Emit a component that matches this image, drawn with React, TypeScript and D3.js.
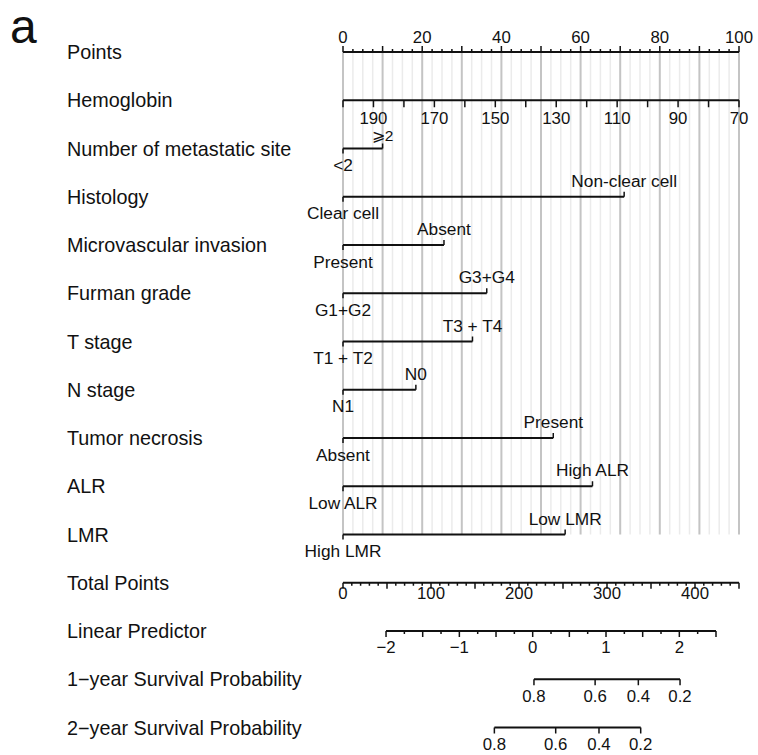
import React from "react";
import * as d3 from "d3";

const rowLabels = [
  "Points",
  "Hemoglobin",
  "Number of metastatic site",
  "Histology",
  "Microvascular invasion",
  "Furman grade",
  "T stage",
  "N stage",
  "Tumor necrosis",
  "ALR",
  "LMR",
  "Total Points",
  "Linear Predictor",
  "1\u2212year Survival Probability",
  "2\u2212year Survival Probability",
];

// Points axis
const pointsTicks = d3.range(0, 100.001, 2.5);
const pointsLabels = [0, 20, 40, 60, 80, 100];

// Hemoglobin (200 -> 0 points, 70 -> 100 points)
const hbTicks = [200, 190, 180, 170, 160, 150, 140, 130, 120, 110, 100, 90, 80, 70];
const hbLabels = [190, 170, 150, 130, 110, 90, 70];
const hbRange = [200, 70];

// Categorical variables (rows 2..10)
const catLowLabels = ["<2", "Clear cell", "Present", "G1+G2", "T1 + T2", "N1", "Absent", "Low ALR", "High LMR"];
const catHighLabels = ["\u2A7E2", "Non-clear cell", "Absent", "G3+G4", "T3 + T4", "N0", "Present", "High ALR", "Low LMR"];
const catHighPoints = [10, 71, 25.5, 36.3, 32.7, 18.4, 53.1, 63, 56.1];

// Total points
const totalTicks = d3.range(0, 450.001, 10);
const totalLabels = [0, 100, 200, 300, 400];
const totalMax = 450;

// Linear predictor (value -> total points)
const lpTicks = d3.range(-2, 2.5001, 0.25);
const lpLabels = [-2, -1, 0, 1, 2];
const lpAnchor = [-2, 2];
const lpAnchorTotal = [48.9, 382.2];

// Survival probabilities (value -> total points)
const survProbs = [0.8, 0.6, 0.4, 0.2];
const surv1Total = [217, 286.5, 335.6, 383];
const surv2Total = [172, 241.7, 290.9, 338.3];

const FONT = "'Liberation Sans', Arial, Helvetica, sans-serif";

export default function App() {
  const W = 758;
  const H = 755;
  const x0 = 343;
  const x1 = 739;
  const rowY = (i: number) => 52 + i * 48.25;

  const px = d3.scaleLinear().domain([0, 100]).range([x0, x1]);
  const hb = d3.scaleLinear().domain(hbRange).range([x0, x1]);
  const tp = d3.scaleLinear().domain([0, totalMax]).range([x0, x1]);
  const lp = d3.scaleLinear().domain(lpAnchor).range(lpAnchorTotal.map((v) => tp(v)));

  const gridTop = rowY(0);
  const gridBottom = rowY(10);
  const fmt = d3.format("");

  const isMult = (v: number, m: number) => Math.abs(v / m - Math.round(v / m)) < 1e-6;

  const TICK_FS = 16.8;
  const CAT_FS = 17.3;
  const ROW_FS = 19.8;

  const elements: React.ReactNode[] = [];

  // gridlines
  pointsTicks.forEach((t, i) => {
    if (isMult(t, 10)) return;
    elements.push(
      <line key={"gm" + i} x1={px(t)} x2={px(t)} y1={gridTop} y2={gridBottom} stroke="#ebebeb" strokeWidth={1.5} />
    );
  });
  pointsTicks.forEach((t, i) => {
    if (!isMult(t, 10)) return;
    elements.push(
      <line key={"gM" + i} x1={px(t)} x2={px(t)} y1={gridTop} y2={gridBottom} stroke="#c4c4c4" strokeWidth={2} />
    );
  });

  // row labels
  rowLabels.forEach((l, i) => {
    elements.push(
      <text key={"rl" + i} x={67} y={rowY(i) + 7} fontSize={ROW_FS} fontFamily={FONT} fill="#111">
        {l}
      </text>
    );
  });

  const stroke = "#111";
  const sw = 2;

  // Points axis
  {
    const y = rowY(0);
    elements.push(<line key="pa" x1={px(0)} x2={px(100)} y1={y} y2={y} stroke={stroke} strokeWidth={sw} />);
    pointsTicks.forEach((t, i) => {
      const len = isMult(t, 10) ? 6 : 3;
      elements.push(<line key={"pt" + i} x1={px(t)} x2={px(t)} y1={y} y2={y - len} stroke={stroke} strokeWidth={1.5} />);
    });
    pointsLabels.forEach((t, i) => {
      elements.push(
        <text key={"pl" + i} x={px(t)} y={y - 9.5} textAnchor="middle" fontSize={TICK_FS} fontFamily={FONT} fill="#111">
          {fmt(t)}
        </text>
      );
    });
  }

  // Hemoglobin
  {
    const y = rowY(1);
    elements.push(<line key="ha" x1={hb(hbRange[0])} x2={hb(hbRange[1])} y1={y} y2={y} stroke={stroke} strokeWidth={sw} />);
    hbTicks.forEach((t, i) => {
      elements.push(<line key={"ht" + i} x1={hb(t)} x2={hb(t)} y1={y} y2={y + 7} stroke={stroke} strokeWidth={1.5} />);
    });
    hbLabels.forEach((t, i) => {
      elements.push(
        <text key={"hl" + i} x={hb(t)} y={y + 24} textAnchor="middle" fontSize={TICK_FS} fontFamily={FONT} fill="#111">
          {fmt(t)}
        </text>
      );
    });
  }

  // categorical
  catHighPoints.forEach((p, i) => {
    const y = rowY(i + 2);
    const xa = px(0);
    const xb = px(p);
    elements.push(<line key={"ca" + i} x1={xa} x2={xb} y1={y} y2={y} stroke={stroke} strokeWidth={sw} />);
    elements.push(<line key={"cl" + i} x1={xa} x2={xa} y1={y} y2={y + 5} stroke={stroke} strokeWidth={1.5} />);
    elements.push(<line key={"ch" + i} x1={xb} x2={xb} y1={y} y2={y - 5} stroke={stroke} strokeWidth={1.5} />);
    elements.push(
      <text key={"clt" + i} x={xa} y={y + 22.5} textAnchor="middle" fontSize={CAT_FS} fontFamily={FONT} fill="#111">
        {catLowLabels[i]}
      </text>
    );
    elements.push(
      <text
        key={"cht" + i}
        x={xb}
        y={y - (i === 0 ? 7.5 : 10)}
        textAnchor="middle"
        fontSize={i === 0 ? 15.5 : CAT_FS}
        fontFamily={FONT}
        fill="#111"
      >
        {catHighLabels[i]}
      </text>
    );
  });

  // Total points
  {
    const y = rowY(11);
    elements.push(<line key="ta" x1={tp(0)} x2={tp(totalMax)} y1={y} y2={y} stroke={stroke} strokeWidth={sw} />);
    totalTicks.forEach((t, i) => {
      const len = isMult(t, 50) ? 6 : 3;
      elements.push(<line key={"tt" + i} x1={tp(t)} x2={tp(t)} y1={y} y2={y + len} stroke={stroke} strokeWidth={1.5} />);
    });
    totalLabels.forEach((t, i) => {
      elements.push(
        <text key={"tl" + i} x={tp(t)} y={y + 16} textAnchor="middle" fontSize={TICK_FS} fontFamily={FONT} fill="#111">
          {fmt(t)}
        </text>
      );
    });
  }

  // Linear predictor
  {
    const y = rowY(12);
    elements.push(<line key="la" x1={lp(lpTicks[0])} x2={lp(lpTicks[lpTicks.length - 1])} y1={y} y2={y} stroke={stroke} strokeWidth={sw} />);
    lpTicks.forEach((t, i) => {
      const len = isMult(t, 0.5) ? 6 : 3;
      elements.push(<line key={"lt" + i} x1={lp(t)} x2={lp(t)} y1={y} y2={y + len} stroke={stroke} strokeWidth={1.5} />);
    });
    lpLabels.forEach((t, i) => {
      elements.push(
        <text key={"ll" + i} x={lp(t)} y={y + 22} textAnchor="middle" fontSize={TICK_FS} fontFamily={FONT} fill="#111">
          {d3.format("d")(t)}
        </text>
      );
    });
  }

  // Survival
  [surv1Total, surv2Total].forEach((tot, r) => {
    const y = rowY(13 + r);
    const xs = tot.map((v) => tp(v));
    elements.push(<line key={"sa" + r} x1={d3.min(xs)!} x2={d3.max(xs)!} y1={y} y2={y} stroke={stroke} strokeWidth={sw} />);
    xs.forEach((xv, i) => {
      elements.push(<line key={"st" + r + i} x1={xv} x2={xv} y1={y} y2={y + 6} stroke={stroke} strokeWidth={1.5} />);
      elements.push(
        <text key={"sl" + r + i} x={xv} y={y + 22.5} textAnchor="middle" fontSize={TICK_FS} fontFamily={FONT} fill="#111">
          {d3.format(".1f")(survProbs[i])}
        </text>
      );
    });
  });

  return (
    <svg
      width={W}
      height={H}
      viewBox={`0 0 ${W} ${H}`}
      style={{ position: "absolute", left: 0, top: 0, background: "#fff" }}
    >
      <rect x={0} y={0} width={W} height={H} fill="#fff" />
      <text x={10} y={43} fontSize={48} fontFamily={FONT} fill="#111">
        a
      </text>
      {elements}
    </svg>
  );
}
